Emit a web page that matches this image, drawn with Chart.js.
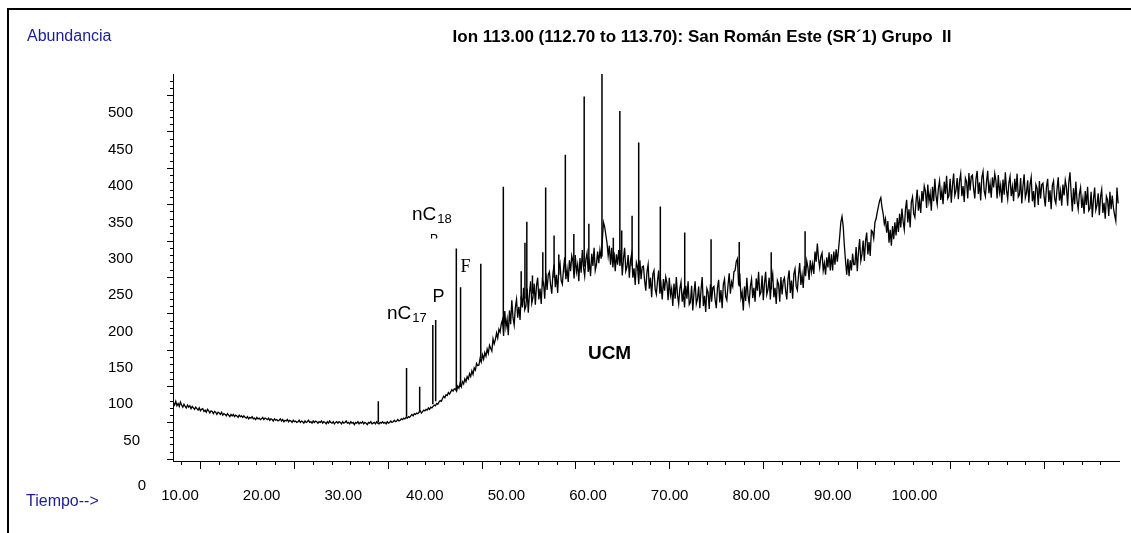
<!DOCTYPE html>
<html>
<head>
<meta charset="utf-8">
<script src="https://cdn.jsdelivr.net/npm/chart.js@4.4.1/dist/chart.umd.min.js"></script>
<style>
html,body{margin:0;padding:0;background:#fff;}
#wrap{position:relative;width:1131px;height:533px;}
</style>
</head>
<body>
<div id="wrap"><canvas id="c" width="1131" height="533"></canvas></div>
<script>
// ---------- DATA ----------
const chartTitle = 'Ion 113.00 (112.70 to 113.70): San Román Este (SR\u00B41) Grupo  II';
const yAxisTitle = 'Abundancia';
const xAxisTitle = 'Tiempo-->';
const xTickValues = [10, 20, 30, 40, 50, 60, 70, 80, 90, 100];
const yTickValues = [0, 50, 100, 150, 200, 250, 300, 350, 400, 450, 500];

// Unresolved trace (baseline + UCM hump), read at a constant sampling interval (minutes)
const traceStart = 9.19;
const traceStep = 0.144;
const abundance = [
  102, 99, 104, 98, 101, 97, 103, 99, 96, 100, 97, 95, 99, 96, 98, 94, 97, 95, 93, 96,
  94, 92, 95, 91, 93, 94, 90, 92, 89, 93, 91, 88, 91, 90, 87, 90, 89, 86, 89, 88,
  86, 89, 85, 87, 86, 84, 87, 85, 83, 86, 84, 86, 83, 85, 84, 82, 85, 83, 84, 82,
  84, 82, 81, 83, 80, 82, 81, 83, 80, 81, 79, 82, 80, 81, 79, 80, 82, 79, 81, 80,
  79, 81, 78, 80, 79, 77, 80, 78, 79, 77, 78, 80, 77, 79, 76, 78, 77, 79, 76, 78,
  77, 75, 78, 76, 77, 75, 76, 78, 75, 77, 76, 74, 77, 75, 76, 78, 75, 76, 74, 77,
  75, 77, 76, 74, 76, 75, 77, 74, 76, 75, 73, 76, 74, 77, 75, 74, 76, 73, 75, 76,
  74, 76, 75, 73, 76, 74, 75, 77, 74, 75, 73, 76, 74, 75, 72, 75, 74, 76, 73, 75,
  74, 76, 73, 75, 74, 72, 75, 74, 76, 73, 74, 75, 73, 76, 74, 73, 75, 74, 76, 74,
  75, 73, 76, 74, 75, 77, 75, 76, 78, 76, 77, 79, 77, 78, 80, 79, 81, 80, 82, 81,
  83, 82, 84, 86, 84, 87, 86, 88, 87, 89, 91, 88, 90, 92, 91, 93, 92, 95, 93, 96,
  95, 97, 99, 98, 101, 100, 103, 105, 104, 108, 111, 109, 113, 112, 116, 114, 117, 120, 118, 121,
  121, 118, 125, 122, 129, 124, 131, 128, 135, 131, 138, 135, 142, 138, 146, 141, 150, 147, 156, 153,
  154, 163, 158, 168, 162, 171, 166, 176, 170, 181, 177, 173, 190, 183, 189, 198, 191, 203, 199, 210,
  216, 194, 228, 206, 217, 195, 229, 210, 243, 219, 209, 233, 244, 219, 234, 216, 249, 233, 260, 230,
  235, 259, 226, 252, 269, 239, 247, 266, 237, 263, 274, 244, 259, 238, 271, 267, 245, 280, 257, 278,
  282, 264, 252, 280, 292, 261, 278, 253, 287, 294, 270, 265, 286, 302, 272, 286, 268, 298, 283, 304,
  296, 273, 305, 282, 292, 269, 301, 281, 312, 288, 276, 299, 308, 282, 295, 276, 307, 290, 315, 284,
  292, 310, 294, 312, 300, 325, 350, 344, 333, 322, 304, 318, 292, 315, 288, 309, 283, 306, 292, 312,
  290, 312, 277, 300, 315, 283, 289, 305, 274, 298, 307, 274, 287, 264, 295, 289, 265, 298, 272, 289,
  290, 270, 256, 282, 292, 259, 274, 247, 279, 284, 258, 251, 270, 284, 252, 264, 244, 272, 256, 275,
  267, 243, 274, 250, 259, 235, 266, 245, 275, 250, 238, 259, 268, 241, 253, 233, 263, 245, 269, 237,
  240, 263, 229, 253, 269, 238, 245, 262, 232, 257, 275, 235, 249, 227, 259, 254, 231, 265, 241, 260,
  262, 244, 232, 260, 271, 240, 257, 232, 265, 272, 248, 243, 264, 280, 252, 268, 262, 282, 284, 296,
  300, 264, 280, 246, 254, 229, 262, 242, 274, 250, 239, 262, 272, 246, 260, 241, 273, 256, 282, 250,
  254, 277, 243, 266, 282, 251, 258, 274, 244, 269, 279, 247, 260, 238, 270, 265, 241, 275, 251, 270,
  274, 256, 244, 272, 284, 253, 270, 245, 279, 286, 262, 257, 278, 294, 264, 278, 260, 290, 276, 297,
  288, 271, 298, 282, 293, 279, 310, 296, 321, 300, 288, 303, 308, 284, 294, 278, 302, 288, 309, 284,
  306, 284, 310, 292, 313, 296, 312, 330, 350, 358, 345, 318, 297, 278, 300, 276, 298, 284, 307, 292,
  292, 316, 283, 309, 327, 297, 306, 325, 297, 324, 336, 306, 323, 304, 339, 337, 328, 350, 355, 364,
  372, 380, 384, 371, 362, 348, 355, 336, 352, 322, 340, 318, 345, 327, 350, 332, 356, 337, 362, 343,
  369, 351, 340, 368, 381, 350, 368, 343, 378, 385, 362, 357, 379, 395, 366, 380, 363, 393, 379, 400,
  393, 370, 402, 379, 390, 366, 399, 379, 410, 386, 375, 397, 407, 381, 394, 375, 406, 389, 414, 383,
  387, 410, 377, 401, 417, 387, 394, 411, 382, 407, 417, 386, 400, 378, 411, 406, 383, 418, 394, 413,
  415, 396, 383, 410, 421, 389, 405, 380, 412, 420, 393, 386, 406, 421, 390, 403, 384, 412, 398, 417,
  407, 383, 415, 391, 401, 377, 409, 388, 419, 394, 382, 404, 413, 386, 399, 379, 410, 392, 417, 385,
  388, 411, 376, 400, 416, 384, 391, 408, 377, 402, 412, 379, 393, 371, 402, 397, 374, 407, 383, 402,
  404, 385, 372, 399, 410, 378, 394, 368, 401, 407, 382, 376, 396, 412, 380, 393, 373, 402, 387, 408,
  398, 373, 405, 419, 390, 365, 397, 375, 406, 380, 368, 389, 398, 370, 383, 362, 393, 374, 399, 366,
  369, 392, 357, 382, 398, 367, 374, 390, 360, 385, 395, 363, 377, 355, 386, 381, 359, 392, 368, 387,
  370, 360, 352, 398, 376
];

// Resolved sharp peaks: retention time, apex abundance, abundance at the foot
const peakTimes = [34.30, 37.76, 39.37, 40.98, 41.33, 43.86, 44.38, 46.86, 49.62, 51.81, 52.27, 52.50, 53.19, 54.46, 54.81, 55.84, 56.42, 57.22, 58.26, 59.53, 60.10, 61.71, 63.10, 63.90, 64.13, 65.40, 66.21, 68.86, 71.85, 75.08, 78.53, 82.45, 86.60];
const peakTops  = [104, 150, 124, 209, 216, 314, 261, 293, 399, 283, 322, 351, 277, 309, 398, 332, 306, 443, 334, 523, 348, 554, 329, 503, 339, 359, 460, 372, 336, 327, 323, 309, 338];
const peakBases = [75, 83, 90, 100, 104, 119, 124, 163, 210, 243, 245, 247, 252, 263, 266, 274, 278, 281, 286, 289, 291, 303, 300, 298, 298, 290, 283, 259, 251, 248, 262, 258, 278];

// Peak annotations (anchored in data coordinates)
const peakLabelTexts = ['nC', 'P', 'F', 'nC', 'UCM'];
const peakLabelSubs  = ['17', '', '', '18', ''];
const peakLabelTimes = [35.37, 41.68, 44.99, 38.43, 62.64];
const peakLabelAbund = [225, 247, 289, 361, 170];

// ---------- SCALE RANGE / TICK MARKS ----------
const xMin = 9.14, xMax = 125.07;
const yMin = 22, yMax = 554;
const xTickFirst = 10.18, xTickStep = 2.298;
const yTickFirst = 25, yTickStep = 10;

const traceData = abundance.map((v, i) => ({ x: traceStart + i * traceStep, y: v }));
const peakData = [];
peakTimes.forEach((t, i) => {
  peakData.push({ x: t, y: peakBases[i] });
  peakData.push({ x: t, y: peakTops[i] });
  peakData.push({ x: t, y: null });
});

const SANS = "'Liberation Sans', Arial, Helvetica, sans-serif";
const BLUE = '#1d1d8f';

const decor = {
  id: 'decor',
  beforeDraw(chart) {
    const ctx = chart.ctx;
    ctx.save();
    ctx.fillStyle = '#fff';
    ctx.fillRect(0, 0, chart.width, chart.height);
    ctx.restore();
  },
  afterDraw(chart) {
    const ctx = chart.ctx;
    const xs = chart.scales.x, ys = chart.scales.y;
    const a = chart.chartArea;
    ctx.save();
    // frame (top + left only)
    ctx.fillStyle = '#000';
    ctx.fillRect(7, 8, chart.width - 7, 2);
    ctx.fillRect(7, 8, 2, chart.height - 8);

    // tick marks
    ctx.strokeStyle = '#000';
    ctx.lineWidth = 1;
    ctx.beginPath();
    for (let i = 0, v = xTickFirst; v <= xs.max; i++, v = xTickFirst + i * xTickStep) {
      const px = Math.round(xs.getPixelForValue(v)) + 0.5;
      const len = (i % 5 === 1) ? 8 : 4;
      ctx.moveTo(px, a.bottom);
      ctx.lineTo(px, a.bottom + len);
    }
    for (let i = 0, v = yTickFirst; v <= ys.max; i++, v = yTickFirst + i * yTickStep) {
      const py = Math.round(ys.getPixelForValue(v)) + 0.5;
      const len = ((v - 25) % 50 === 0) ? 6 : 3;
      ctx.moveTo(a.left, py);
      ctx.lineTo(a.left - len, py);
    }
    ctx.stroke();

    // y tick labels
    ctx.fillStyle = '#000';
    ctx.font = '15px ' + SANS;
    ctx.textAlign = 'right';
    ctx.textBaseline = 'middle';
    const digitShift = [0, 13, 7, 0];
    yTickValues.forEach(v => {
      const s = String(v);
      let py = ys.getPixelForValue(v);
      if (py > a.bottom) py = a.bottom + 25;
      ctx.fillText(s, a.left - 40 + digitShift[s.length], py);
    });

    // titles
    ctx.fillStyle = BLUE;
    ctx.textAlign = 'left';
    ctx.font = '16px ' + SANS;
    ctx.fillText(yAxisTitle, 27, 37);
    ctx.fillText(xAxisTitle, 26, 502);

    ctx.fillStyle = '#000';
    ctx.textAlign = 'center';
    ctx.font = 'bold 17px ' + SANS;
    ctx.fillText(chartTitle, 702, 37);

    // peak annotations
    peakLabelTexts.forEach((txt, i) => {
      const px = xs.getPixelForValue(peakLabelTimes[i]);
      const py = ys.getPixelForValue(peakLabelAbund[i]);
      if (txt === 'UCM') {
        ctx.font = 'bold 19px ' + SANS;
        ctx.textAlign = 'center';
        ctx.fillText(txt, px, py);
      } else if (txt === 'F') {
        ctx.font = '18px "Liberation Serif", "Times New Roman", serif';
        ctx.textAlign = 'center';
        ctx.fillText(txt, px, py);
      } else if (peakLabelSubs[i]) {
        ctx.font = '19px ' + SANS;
        ctx.textAlign = 'left';
        ctx.fillText(txt, px, py);
        const w = ctx.measureText(txt).width;
        ctx.font = '13px ' + SANS;
        ctx.fillText(peakLabelSubs[i], px + w + 1, py + 5);
      } else {
        ctx.font = '18px ' + SANS;
        ctx.textAlign = 'center';
        ctx.fillText(txt, px, py);
      }
    });
    // partially hidden "P" under nC18
    {
      const px = xs.getPixelForValue(41.13);
      const top = ys.getPixelForValue(335);
      const bot = ys.getPixelForValue(328);
      ctx.save();
      ctx.beginPath();
      ctx.rect(px - 8, top - 1, 16, bot - top + 1);
      ctx.clip();
      ctx.font = '12px ' + SANS;
      ctx.textAlign = 'center';
      ctx.textBaseline = 'top';
      ctx.fillText('P', px, top);
      ctx.restore();
    }
    ctx.restore();
  }
};

new Chart(document.getElementById('c'), {
  type: 'line',
  data: {
    datasets: [
      { data: traceData, borderColor: '#000', borderWidth: 1.3, pointRadius: 0, tension: 0, fill: false },
      { data: peakData, borderColor: '#000', borderWidth: 1.5, pointRadius: 0, tension: 0, fill: false, spanGaps: false }
    ]
  },
  options: {
    responsive: false,
    devicePixelRatio: 1,
    animation: false,
    events: [],
    layout: { padding: { top: 74, right: 12, bottom: 0, left: 0 } },
    plugins: { legend: { display: false }, tooltip: { enabled: false }, title: { display: false } },
    scales: {
      x: {
        type: 'linear',
        min: xMin, max: xMax,
        afterFit: (s) => { s.height = 72; },
        afterBuildTicks: (s) => { s.ticks = xTickValues.map(v => ({ value: v })); },
        grid: { display: false, drawTicks: false },
        border: { display: true, color: '#000', width: 1 },
        ticks: {
          autoSkip: false, maxRotation: 0, padding: 26, color: '#000',
          font: { family: SANS, size: 15 },
          callback: (v) => Number(v).toFixed(2)
        }
      },
      y: {
        type: 'linear',
        min: yMin, max: yMax,
        afterFit: (s) => { s.width = 173; },
        grid: { display: false, drawTicks: false },
        border: { display: true, color: '#000', width: 1 },
        ticks: { display: false }
      }
    }
  },
  plugins: [decor]
});
</script>
</body>
</html>
